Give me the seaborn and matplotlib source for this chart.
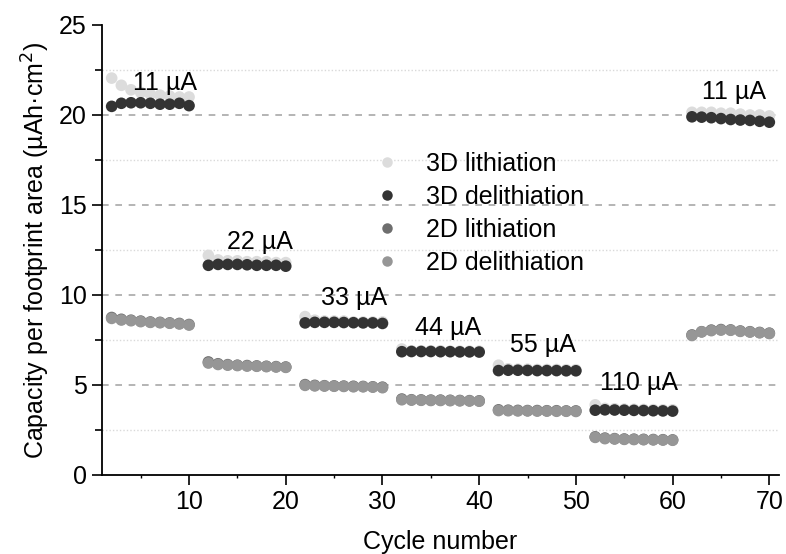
import numpy as np
import pandas as pd
import matplotlib
matplotlib.use("Agg")
import matplotlib.pyplot as plt
from matplotlib.ticker import MultipleLocator
import seaborn as sns

# ---------------- data ----------------
cycles = [2, 3, 4, 5, 6, 7, 8, 9, 10,
          12, 13, 14, 15, 16, 17, 18, 19, 20,
          22, 23, 24, 25, 26, 27, 28, 29, 30,
          32, 33, 34, 35, 36, 37, 38, 39, 40,
          42, 43, 44, 45, 46, 47, 48, 49, 50,
          52, 53, 54, 55, 56, 57, 58, 59, 60,
          62, 63, 64, 65, 66, 67, 68, 69, 70]

lith_3d = [22.05, 21.65, 21.4, 21.25, 21.15, 21.1, 21.05, 21.0, 21.0,
           12.2, 11.95, 11.9, 11.9, 11.85, 11.85, 11.85, 11.8, 11.8,
           8.8, 8.6, 8.55, 8.55, 8.55, 8.5, 8.5, 8.5, 8.5,
           7.0, 6.9, 6.9, 6.9, 6.9, 6.88, 6.88, 6.88, 6.88,
           6.1, 5.9, 5.88, 5.88, 5.86, 5.86, 5.86, 5.85, 5.85,
           3.9, 3.7, 3.68, 3.66, 3.65, 3.64, 3.63, 3.62, 3.62,
           20.15, 20.15, 20.15, 20.1, 20.1, 20.05, 20.0, 20.0, 19.95]

delith_3d = [20.48, 20.65, 20.68, 20.68, 20.65, 20.6, 20.6, 20.65, 20.52,
             11.65, 11.7, 11.7, 11.7, 11.68, 11.65, 11.65, 11.65, 11.6,
             8.45, 8.48, 8.48, 8.48, 8.47, 8.46, 8.45, 8.45, 8.42,
             6.85, 6.86, 6.86, 6.86, 6.85, 6.85, 6.84, 6.84, 6.83,
             5.8, 5.82, 5.82, 5.81, 5.8, 5.8, 5.8, 5.79, 5.79,
             3.6, 3.62, 3.61, 3.6, 3.59, 3.58, 3.57, 3.56, 3.55,
             19.9, 19.88, 19.85, 19.8, 19.75, 19.72, 19.7, 19.65, 19.6]

lith_2d = [8.75, 8.65, 8.6, 8.55, 8.5, 8.48, 8.45, 8.42, 8.36,
           6.28, 6.18, 6.13, 6.1, 6.08, 6.06, 6.04, 6.02, 6.0,
           5.02, 4.98, 4.96, 4.95, 4.94, 4.93, 4.92, 4.9, 4.88,
           4.22, 4.18, 4.17, 4.16, 4.16, 4.15, 4.14, 4.13, 4.12,
           3.62, 3.6, 3.59, 3.58, 3.58, 3.57, 3.57, 3.56, 3.56,
           2.12, 2.05, 2.02, 2.0, 1.99, 1.98, 1.97, 1.96, 1.95,
           7.78, 7.96, 8.05, 8.08, 8.06, 8.0, 7.96, 7.92, 7.88]

delith_2d = [8.7, 8.61, 8.57, 8.52, 8.48, 8.46, 8.43, 8.39, 8.33,
             6.22, 6.14, 6.1, 6.08, 6.05, 6.04, 6.02, 6.0, 5.98,
             4.98, 4.95, 4.94, 4.93, 4.92, 4.9, 4.9, 4.88, 4.85,
             4.18, 4.16, 4.15, 4.14, 4.14, 4.13, 4.12, 4.11, 4.1,
             3.58, 3.57, 3.56, 3.56, 3.55, 3.55, 3.54, 3.54, 3.53,
             2.09, 2.02, 2.0, 1.98, 1.97, 1.96, 1.95, 1.94, 1.93,
             7.75, 7.95, 8.02, 8.05, 8.04, 7.98, 7.94, 7.9, 7.86]

series_names = ["3D lithiation", "3D delithiation", "2D lithiation", "2D delithiation"]
series_colors = ["#dcdcdc", "#333333", "#6e6e6e", "#969696"]

current_labels = ["11 \u00b5A", "22 \u00b5A", "33 \u00b5A", "44 \u00b5A",
                  "55 \u00b5A", "110 \u00b5A", "11 \u00b5A"]
label_x = [7.5, 17.3, 27.1, 36.8, 46.6, 56.5, 66.3]
label_y = [21.8, 12.96, 9.83, 8.17, 7.22, 5.11, 21.3]

# ---------------- frame ----------------
frames = []
for name, vals in zip(series_names, [lith_3d, delith_3d, lith_2d, delith_2d]):
    frames.append(pd.DataFrame({"cycle": cycles, "capacity": vals, "series": name}))
df = pd.concat(frames, ignore_index=True)

sns.set_theme(style="ticks")
plt.rcParams["font.family"] = ["Liberation Sans", "DejaVu Sans"]
plt.rcParams["text.color"] = "black"
plt.rcParams["axes.labelcolor"] = "black"
plt.rcParams["xtick.color"] = "black"
plt.rcParams["ytick.color"] = "black"

fig = plt.figure(figsize=(7.86, 5.54), dpi=100)
ax = fig.add_axes([102 / 786, 1 - 475 / 554, (779 - 102) / 786, 450 / 554])

# grid lines (drawn under points)
ax.set_axisbelow(True)
for v in [5, 10, 15, 20]:
    ax.axhline(v, color="#a8a8a8", lw=1.2, ls=(0, (4, 4)), zorder=0)
for v in [2.5, 7.5, 12.5, 17.5, 22.5]:
    ax.axhline(v, color="#d9d9d9", lw=1.0, ls=(0, (1, 1.5)), zorder=0)

sns.scatterplot(data=df, x="cycle", y="capacity", hue="series",
                hue_order=series_names, palette=series_colors,
                s=70, linewidth=0, edgecolor="none", ax=ax, zorder=3)

for t, x, y in zip(current_labels, label_x, label_y):
    ax.text(x, y, t, ha="center", va="center", fontsize=18, color="black")

ax.set_xlim(1, 71)
ax.set_ylim(0, 25)
ax.xaxis.set_major_locator(MultipleLocator(10))
ax.xaxis.set_minor_locator(MultipleLocator(5))
ax.yaxis.set_major_locator(MultipleLocator(5))
ax.yaxis.set_minor_locator(MultipleLocator(2.5))
ax.tick_params(axis="both", which="major", direction="out", length=7, width=1.2,
               labelsize=18, color="black", labelcolor="black", pad=4)
ax.tick_params(axis="y", which="minor", direction="out", length=5, width=1.2, color="black")
ax.tick_params(axis="x", which="minor", direction="out", length=2, width=1.0, color="black")

for side in ["top", "right"]:
    ax.spines[side].set_visible(False)
for side in ["left", "bottom"]:
    ax.spines[side].set_color("black")
    ax.spines[side].set_linewidth(1.3)

ax.set_xlabel("Cycle number", fontsize=18, labelpad=11, color="black")
ax.set_ylabel("Capacity per footprint area (\u00b5Ah\u00b7cm$^{2}$)", fontsize=18,
              labelpad=5, color="black")

handles, labels = ax.get_legend_handles_labels()
leg = ax.legend(handles, labels, loc="upper left",
                bbox_to_anchor=(374 / 786, 1 - 152 / 554), bbox_transform=fig.transFigure,
                frameon=False, fontsize=18, handlelength=1.0, handletextpad=1.1,
                borderpad=0, borderaxespad=0, labelspacing=0.36, markerscale=0.9)
for txt in leg.get_texts():
    txt.set_color("black")

fig.savefig("out.png", dpi=100)
